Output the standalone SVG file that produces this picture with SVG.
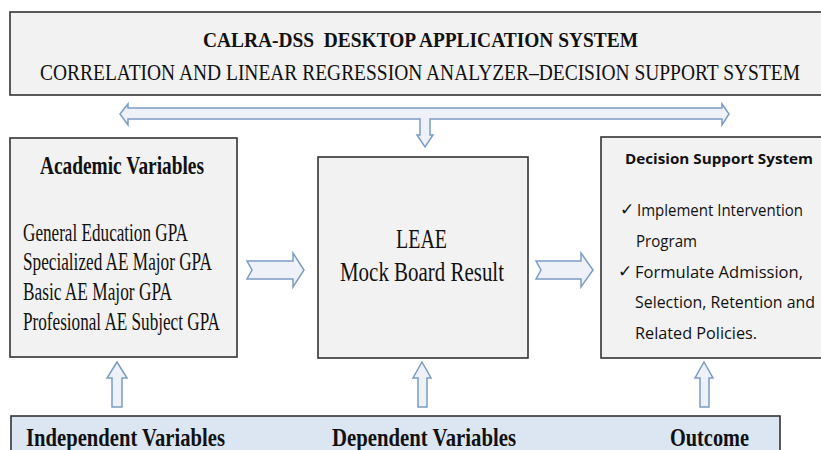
<svg xmlns="http://www.w3.org/2000/svg" width="821" height="450" viewBox="0 0 821 450">
  <style>
    .box { fill: #f2f2f2; stroke: #333333; stroke-width: 1.6; }
    .bottom { fill: #dce6f2; stroke: #333333; stroke-width: 1.6; }
    .arrow { fill: #eef2f8; stroke: #7b9cc4; stroke-width: 1.5; stroke-linejoin: miter; }
    .serif { font-family: "Liberation Serif", "Times New Roman", serif; fill: #111111; }
    .sans { font-family: "Open Sans", "Liberation Sans", sans-serif; fill: #111111; }
    .b { font-weight: bold; }
  </style>
  <rect width="821" height="450" fill="#ffffff"/>

  <g id="header">
    <rect class="box" x="10" y="12" width="830" height="83"/>
    <text class="serif b" x="203" y="47" font-size="22" textLength="435" lengthAdjust="spacingAndGlyphs" xml:space="preserve">CALRA-DSS  DESKTOP APPLICATION SYSTEM</text>
    <text class="serif" x="40" y="80" font-size="24" textLength="760" lengthAdjust="spacingAndGlyphs">CORRELATION AND LINEAR REGRESSION ANALYZER–DECISION SUPPORT SYSTEM</text>
  </g>

  <g id="academic-variables">
    <rect class="box" x="10" y="138" width="227" height="219"/>
    <text class="serif b" x="40" y="174" font-size="25" textLength="164" lengthAdjust="spacingAndGlyphs">Academic Variables</text>
    <text class="serif" x="23" y="241" font-size="25" textLength="165" lengthAdjust="spacingAndGlyphs">General Education GPA</text>
    <text class="serif" x="23" y="270" font-size="25" textLength="189" lengthAdjust="spacingAndGlyphs">Specialized AE Major GPA</text>
    <text class="serif" x="23" y="300" font-size="25" textLength="149" lengthAdjust="spacingAndGlyphs">Basic AE Major GPA</text>
    <text class="serif" x="23" y="330" font-size="25" textLength="197" lengthAdjust="spacingAndGlyphs">Profesional AE Subject GPA</text>
  </g>

  <g id="mock-board">
    <rect class="box" x="318" y="157" width="210" height="201"/>
    <text class="serif" x="396" y="248" font-size="27" textLength="51" lengthAdjust="spacingAndGlyphs">LEAE</text>
    <text class="serif" x="340" y="281" font-size="27" textLength="164" lengthAdjust="spacingAndGlyphs">Mock Board Result</text>
  </g>

  <g id="decision-support">
    <rect class="box" x="601" y="137" width="230" height="221"/>
    <text class="sans b" x="625" y="164" font-size="15" textLength="188" lengthAdjust="spacingAndGlyphs">Decision Support System</text>
    <text class="sans" x="620" y="215" font-size="17">✓</text>
    <text class="sans" x="637" y="216" font-size="16" textLength="166" lengthAdjust="spacingAndGlyphs">Implement Intervention</text>
    <text class="sans" x="636" y="247" font-size="16" textLength="61" lengthAdjust="spacingAndGlyphs">Program</text>
    <text class="sans" x="618" y="277" font-size="17">✓</text>
    <text class="sans" x="635" y="278" font-size="16" textLength="168" lengthAdjust="spacingAndGlyphs">Formulate Admission,</text>
    <text class="sans" x="635" y="308" font-size="16" textLength="180" lengthAdjust="spacingAndGlyphs">Selection, Retention and</text>
    <text class="sans" x="635" y="339" font-size="16" textLength="122" lengthAdjust="spacingAndGlyphs">Related Policies.</text>
  </g>

  <g id="variable-types">
    <rect class="bottom" x="11" y="416" width="769" height="50"/>
    <text class="serif b" x="26" y="446" font-size="25" textLength="199" lengthAdjust="spacingAndGlyphs">Independent Variables</text>
    <text class="serif b" x="332" y="446" font-size="25" textLength="184" lengthAdjust="spacingAndGlyphs">Dependent Variables</text>
    <text class="serif b" x="670" y="446" font-size="25" textLength="79" lengthAdjust="spacingAndGlyphs">Outcome</text>
  </g>

  <g id="connectors">
    <path class="arrow" d="M120,114 L128,104 L128,108 L722,108 L722,104 L729,114 L722,125 L722,119 L430,119 L430,135 L433,135 L425,147 L417,135 L420,135 L420,119 L128,119 L128,125 Z"/>
    <path class="arrow" d="M247,261 L293,261 L293,253 L304,270 L293,287 L293,279 L247,279 L252,270 Z"/>
    <path class="arrow" d="M536,261 L581,261 L581,253 L593,270 L581,287 L581,279 L536,279 L541,270 Z"/>
    <path class="arrow" d="M117,362 L127,378 L122,378 L122,407 L112,407 L112,378 L107,378 Z"/>
    <path class="arrow" d="M422,362 L431,378 L427,378 L427,407 L418,407 L418,378 L413,378 Z"/>
    <path class="arrow" d="M704,362 L713,378 L709,378 L709,407 L700,407 L700,378 L695,378 Z"/>
  </g>
</svg>
